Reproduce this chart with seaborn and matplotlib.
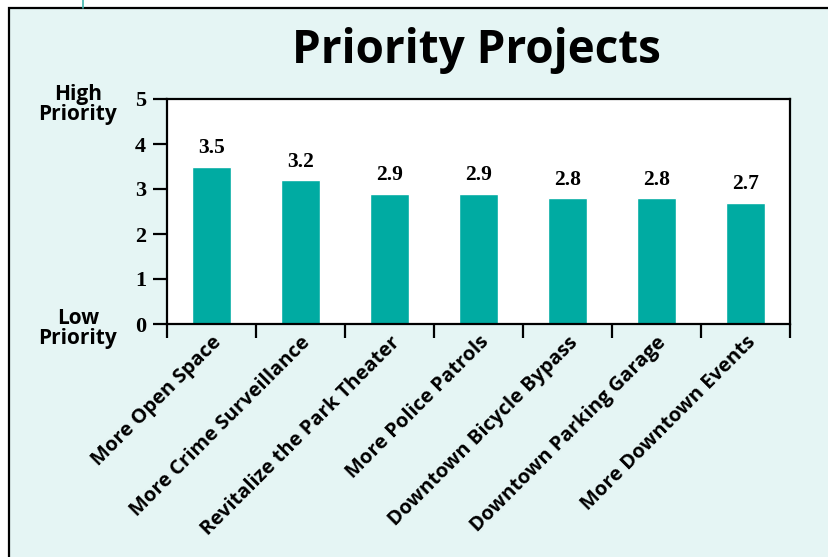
import numpy as np
import seaborn as sns
import matplotlib.pyplot as plt
from matplotlib.patches import Rectangle
from matplotlib.lines import Line2D
from matplotlib.transforms import blended_transform_factory

projects = ['More Open Space', 'More Crime Surveillance', 'Revitalize the Park Theater',
            'More Police Patrols', 'Downtown Bicycle Bypass', 'Downtown Parking Garage',
            'More Downtown Events']
scores = [3.5, 3.2, 2.9, 2.9, 2.8, 2.8, 2.7]
y_ticks = [0, 1, 2, 3, 4, 5]

teal = '#00ABA2'
bg = '#E5F5F4'

sns.set_style('white')
plt.rcParams['font.family'] = ['Open Sans', 'DejaVu Sans']
plt.rcParams['text.color'] = 'black'
plt.rcParams['xtick.color'] = 'black'
plt.rcParams['ytick.color'] = 'black'

fig = plt.figure(figsize=(8.29, 5.57), dpi=100)
fig.patch.set_facecolor('white')

# outer frame (runs past the image edges)
fig.add_artist(Rectangle((9 / 829, -0.05), 1.1, 1 - 8 / 557 + 0.05, transform=fig.transFigure,
                         facecolor=bg, edgecolor='black', linewidth=1.6, zorder=0))
fig.add_artist(Line2D([83 / 829, 83 / 829], [1 - 8 / 557, 1.0], transform=fig.transFigure,
                      color='#3FB5AD', linewidth=1.2))

ax = fig.add_axes([167 / 829, 1 - 324 / 557, 623 / 829, 225 / 557])
ax.set_facecolor('white')

sns.barplot(x=projects, y=scores, color=teal, width=0.43, saturation=1, ax=ax)
ax.bar_label(ax.containers[0], fmt='%.1f', padding=6, fontsize=15.5, fontweight='bold',
             family='Liberation Serif', color='black')

ax.set_xlim(-0.5, len(projects) - 0.5)
ax.set_ylim(0, 5)
ax.set_yticks(y_ticks)
ax.set_yticklabels([str(t) for t in y_ticks], fontsize=16, fontweight='bold',
                   family='Liberation Serif')
ax.tick_params(axis='y', direction='out', length=10, width=1.6, pad=5, left=True,
               colors='black')

ax.set_xticks(np.arange(len(projects)))
ax.set_xticklabels(projects, rotation=45, ha='right', rotation_mode='anchor',
                   fontsize=14.5, fontweight='bold')
ax.tick_params(axis='x', which='major', length=0, pad=6, colors='black')
ax.set_xticks(np.arange(len(projects) + 1) - 0.5, minor=True)
ax.tick_params(axis='x', which='minor', direction='out', length=10, width=1.6, bottom=True,
               colors='black')

for s in ax.spines.values():
    s.set_visible(True)
    s.set_color('black')
    s.set_linewidth(1.6)

ax.set_xlabel('')
ax.set_ylabel('')

tr = blended_transform_factory(ax.transAxes, ax.transData)
ax.text(-0.143, 4.88, 'High\nPriority', transform=tr, ha='center', va='center',
        fontsize=15, fontweight='bold', linespacing=0.9)
ax.text(-0.143, -0.1, 'Low\nPriority', transform=tr, ha='center', va='center',
        fontsize=15, fontweight='bold', linespacing=0.9)

fig.text(476 / 829, 1 - 50 / 557, 'Priority Projects', ha='center', va='center',
         fontsize=33, fontweight='bold')

fig.savefig('out.png', dpi=100)
